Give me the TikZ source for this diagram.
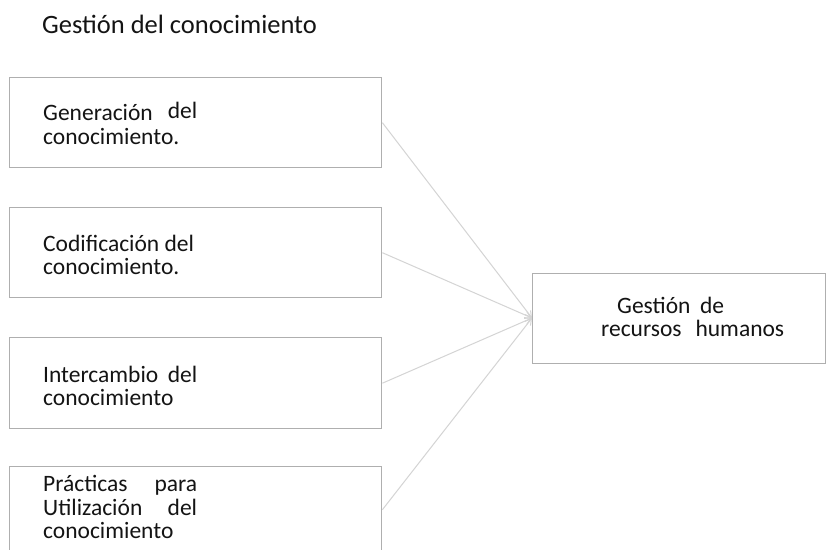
\documentclass[tikz,border=0pt]{standalone}
\usepackage{fontspec}
\setmainfont{Carlito}
\usetikzlibrary{arrows.meta}
\definecolor{boxline}{RGB}{175,175,175}
\definecolor{linkline}{RGB}{212,212,212}
\definecolor{txt}{RGB}{20,20,20}
\tikzset{
  box/.style={draw=boxline, line width=1.4pt, rectangle, inner sep=0pt},
  lbl/.style={anchor=base west, inner sep=0pt, text=txt, font=\fontsize{23.5}{23}\selectfont},
  ttl/.style={anchor=base west, inner sep=0pt, text=txt, font=\fontsize{26.5}{30}\selectfont},
  link/.style={draw=linkline, line width=1pt, -{Straight Barb[length=6pt,width=7pt]}}
}
\begin{document}
\begin{tikzpicture}[x=1pt,y=-1pt]
\useasboundingbox (0,0) rectangle (827,549);
\fill[white] (0,0) rectangle (827,549);
% title
\node[ttl] (title) at (42,33) {Gestión del conocimiento};
% boxes
\node[box, minimum width=372pt, minimum height=90pt, anchor=north west] (A) at (9,77) {};
\node[box, minimum width=372pt, minimum height=90pt, anchor=north west] (B) at (9,207) {};
\node[box, minimum width=372pt, minimum height=91pt, anchor=north west] (C) at (9,337) {};
\node[box, minimum width=372pt, minimum height=86pt, anchor=north west] (D) at (9,466) {};
\node[box, minimum width=293pt, minimum height=90pt, anchor=north west] (R) at (532,273) {};
% texts
\node[lbl] (a1) at (43,120) {\makebox[154pt][s]{Generación \raisebox{2pt}{del}}};
\node[lbl] (a2) at (43,144) {conocimiento.};
\node[lbl] (b1) at (43,251) {Codificación del};
\node[lbl] (b2) at (43,274) {conocimiento.};
\node[lbl] (c1) at (43,382) {\makebox[154pt][s]{Intercambio del}};
\node[lbl] (c2) at (43,405) {conocimiento};
\node[lbl] (d1) at (43,491) {\makebox[154pt][s]{Prácticas para}};
\node[lbl] (d2) at (43,515) {\makebox[154pt][s]{Utilización del}};
\node[lbl] (d3) at (43,538) {conocimiento};
\node[lbl] (r1) at (617,313) {\makebox[107pt][s]{Gestión de}};
\node[lbl] (r2) at (601,336) {\makebox[183pt][s]{recursos humanos}};
% connectors
\coordinate (tip) at (532,318);
\draw[link] (A.east) -- (tip);
\draw[link] (B.east) -- (tip);
\draw[link] (C.east) -- (tip);
\draw[link] (D.east) -- (tip);
\end{tikzpicture}
\end{document}
